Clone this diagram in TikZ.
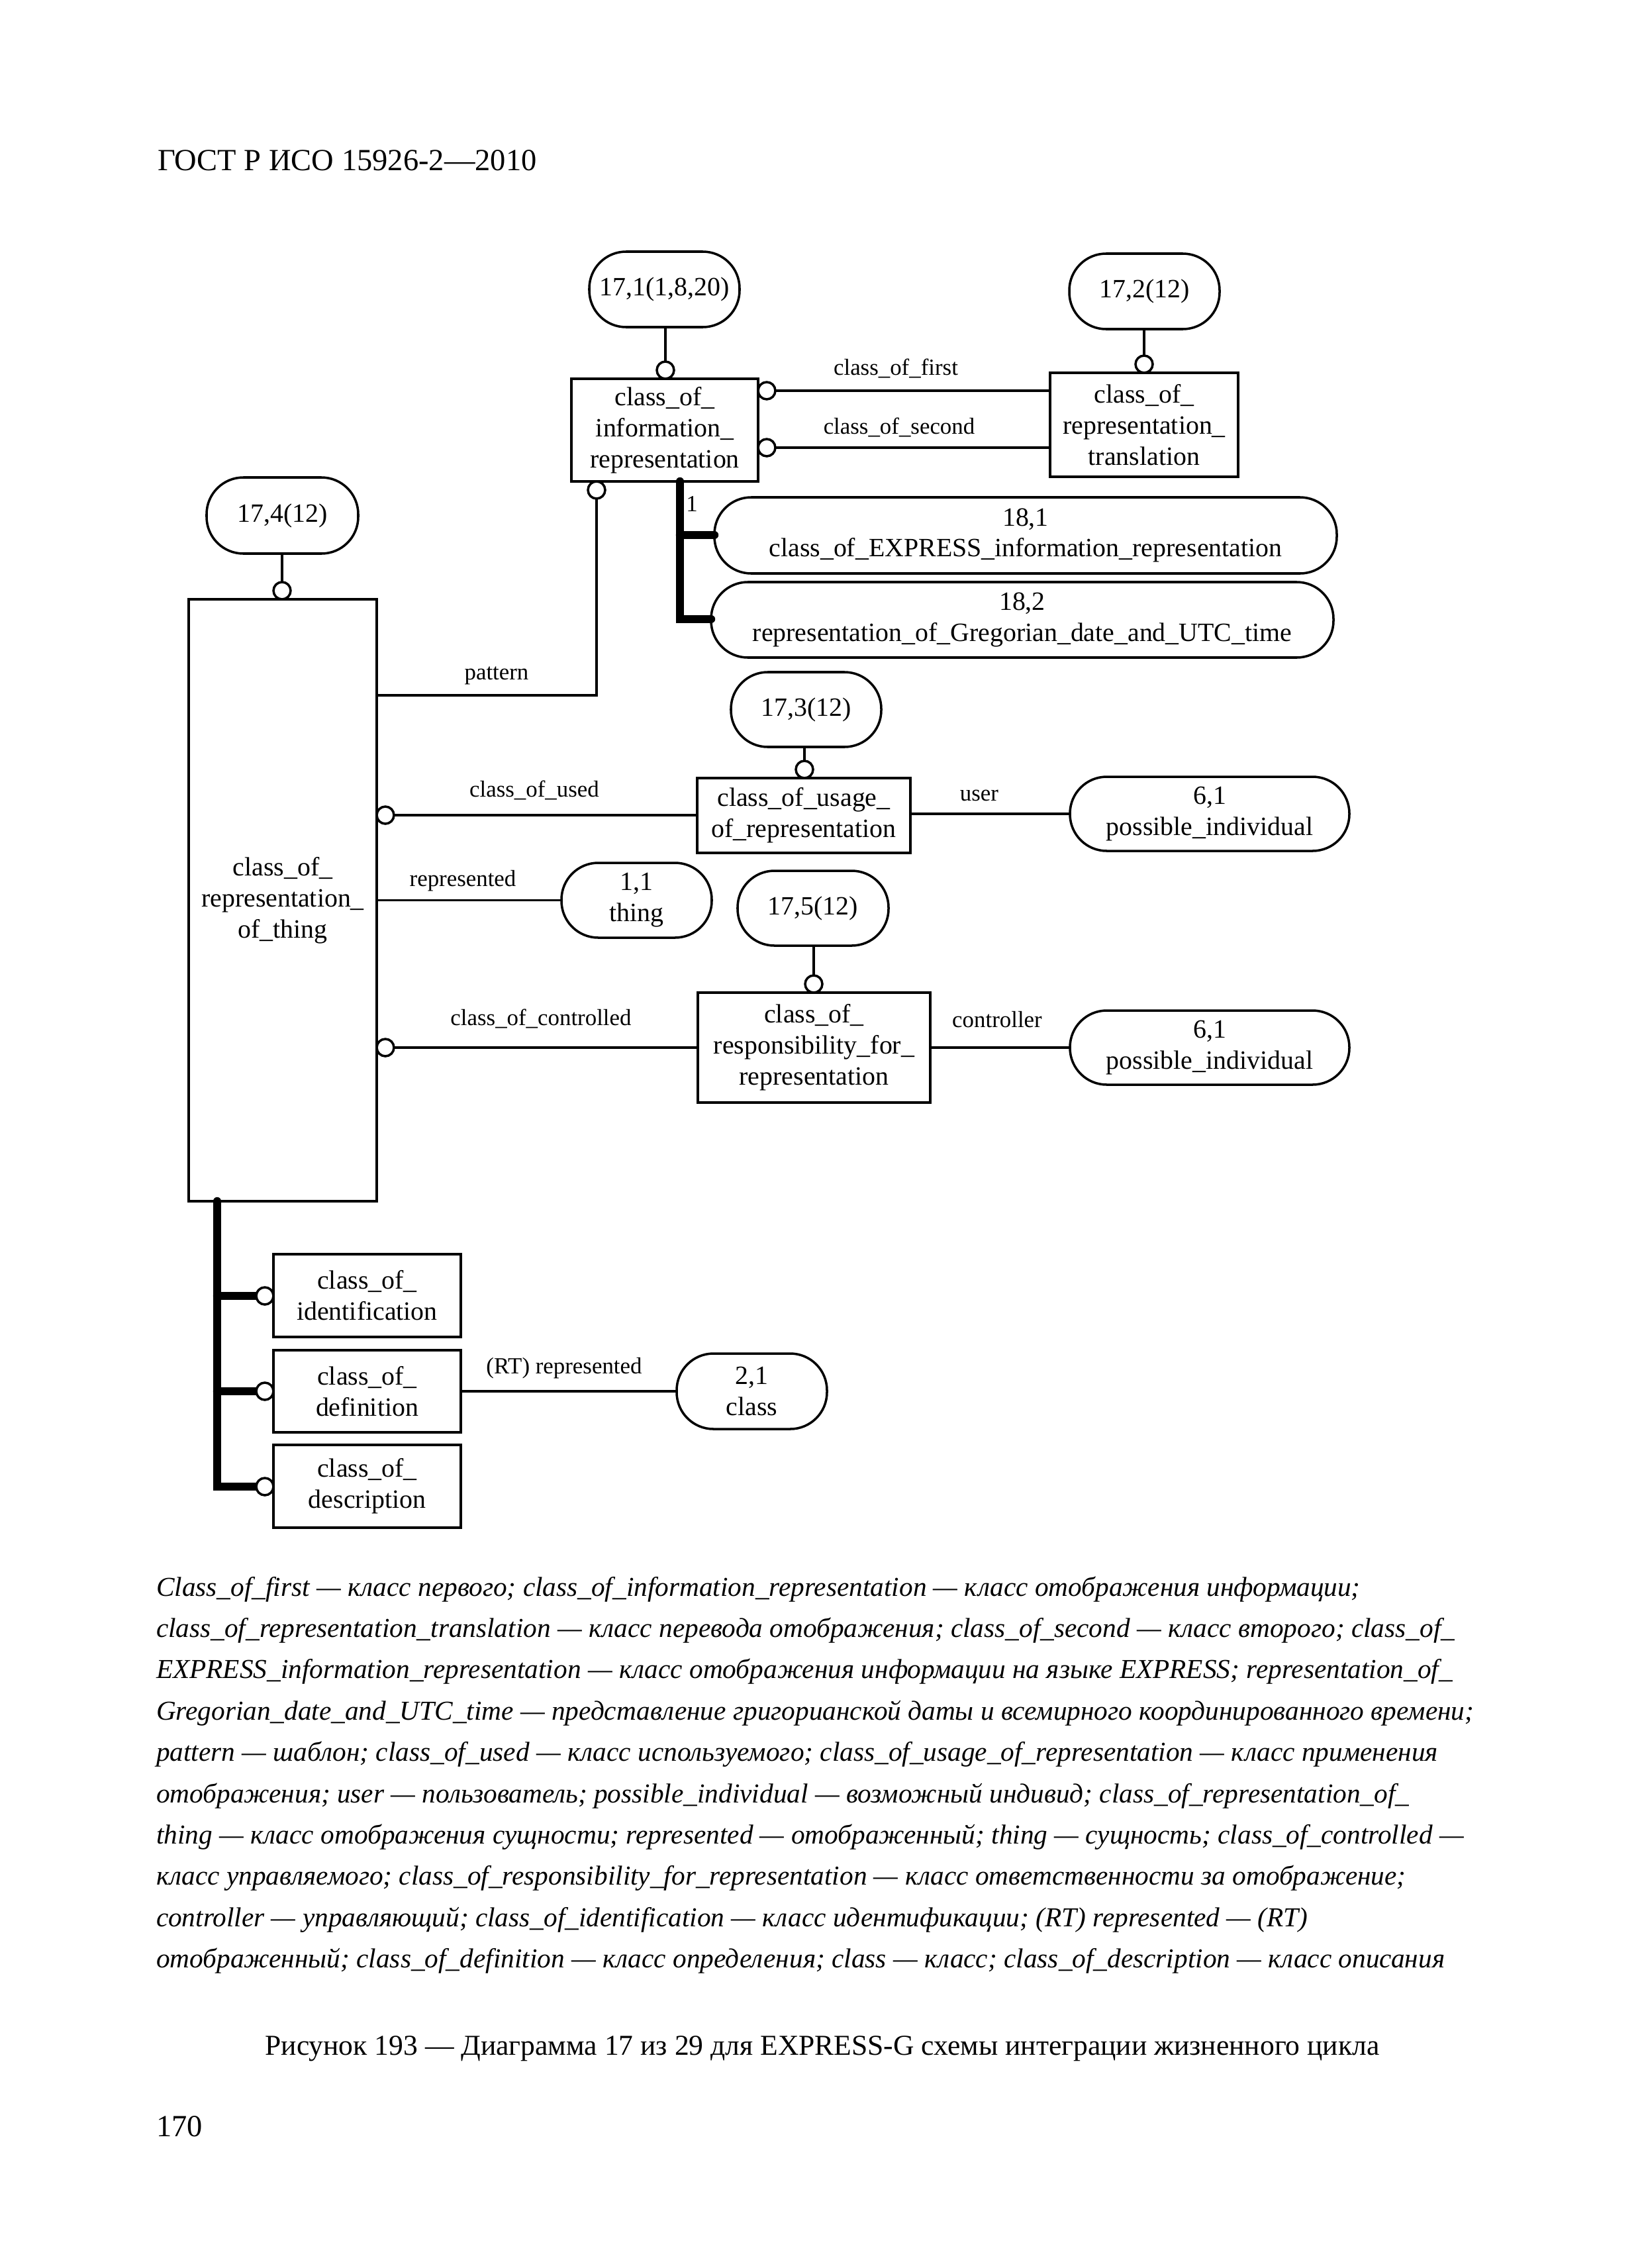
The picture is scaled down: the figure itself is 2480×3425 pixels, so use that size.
\documentclass[tikz,border=0pt]{standalone}
\usepackage{fontspec}
\setmainfont{Liberation Serif}
\usetikzlibrary{backgrounds}
\newcommand\nodefont{\fontsize{9.6}{11.3}\selectfont}
\newcommand\lblfont{\fontsize{8.4}{10}\selectfont}
\begin{document}
\begin{tikzpicture}[x=0.0846667mm, y=-0.0846667mm,
  every node/.style={inner sep=0pt, outer sep=0pt},
  ent/.style={draw, line width=0.85pt, align=center, font=\nodefont},
  rref/.style={ent, rounded corners=4.7mm},
  oc/.style={draw, circle, fill=white, minimum size=2.2mm, line width=0.85pt},
  lbl/.style={font=\lblfont},
  conn/.style={line width=0.8pt},
  thk/.style={line width=3pt, line cap=round},
  captline/.style={anchor=base west, font=\fontsize{9.95}{15}\selectfont\itshape}
]
\useasboundingbox (0,0) rectangle (2480,3425);

% header
\node[anchor=base west, font=\fontsize{11.2}{13}\selectfont] (hdr) at (238,257) {ГОСТ Р ИСО 15926-2—2010};

% reference nodes
\node[rref, minimum width=227*0.0846667mm, minimum height=114*0.0846667mm] (n171) at (1003.5,437) {17,1(1,8,20)};
\node[rref, minimum width=227*0.0846667mm, minimum height=114*0.0846667mm] (n172) at (1728.5,440) {17,2(12)};
\node[rref, minimum width=229*0.0846667mm, minimum height=115*0.0846667mm] (n174) at (426.5,778.5) {17,4(12)};
\node[rref, minimum width=227*0.0846667mm, minimum height=113*0.0846667mm] (n173) at (1217.5,1071.5) {17,3(12)};
\node[rref, minimum width=228*0.0846667mm, minimum height=113*0.0846667mm] (n175) at (1228,1371.5) {17,5(12)};

% entities
\node[ent, minimum width=282*0.0846667mm, minimum height=155*0.0846667mm] (cir) at (1004,649.5) {class\_of\_\\information\_\\representation};
\node[ent, minimum width=284*0.0846667mm, minimum height=157*0.0846667mm] (cort) at (1728,641.5) {class\_of\_\\representation\_\\translation};
\node[rref, minimum width=940*0.0846667mm, minimum height=115*0.0846667mm] (n181) at (1549,808.5) {18,1\\class\_of\_EXPRESS\_information\_representation};
\node[rref, minimum width=940*0.0846667mm, minimum height=114*0.0846667mm] (n182) at (1544,936) {18,2\\representation\_of\_Gregorian\_date\_and\_UTC\_time};
\node[ent, minimum width=284*0.0846667mm, minimum height=909*0.0846667mm] (ct) at (427,1359.5) {class\_of\_\\representation\_\\of\_thing};
\node[ent, minimum width=322*0.0846667mm, minimum height=113*0.0846667mm] (usage) at (1214,1231.5) {class\_of\_usage\_\\of\_representation};
\node[rref, minimum width=422*0.0846667mm, minimum height=112*0.0846667mm] (n61a) at (1827,1229) {6,1\\possible\_individual};
\node[rref, minimum width=227*0.0846667mm, minimum height=113*0.0846667mm] (thing) at (961.5,1359.5) {1,1\\thing};
\node[ent, minimum width=351*0.0846667mm, minimum height=166*0.0846667mm] (resp) at (1229.5,1582) {class\_of\_\\responsibility\_for\_\\representation};
\node[rref, minimum width=422*0.0846667mm, minimum height=112*0.0846667mm] (n61b) at (1827,1582) {6,1\\possible\_individual};
\node[ent, minimum width=283*0.0846667mm, minimum height=125*0.0846667mm] (ident) at (554.5,1956.5) {class\_of\_\\identification};
\node[ent, minimum width=283*0.0846667mm, minimum height=124*0.0846667mm] (defin) at (554.5,2101) {class\_of\_\\definition};
\node[ent, minimum width=283*0.0846667mm, minimum height=125*0.0846667mm] (descr) at (554.5,2244.5) {class\_of\_\\description};
\node[rref, minimum width=227*0.0846667mm, minimum height=114*0.0846667mm] (n21) at (1135.5,2101) {2,1\\class};

% small circles
\node[oc] (c1) at (1005,559) {};
\node[oc] (c2) at (1728,550) {};
\node[oc] (c3) at (1158,590) {};
\node[oc] (c4) at (1158,676) {};
\node[oc] (c5) at (901,740) {};
\node[oc] (c6) at (426,892) {};
\node[oc] (c7) at (582,1231) {};
\node[oc] (c8) at (1215,1162) {};
\node[oc] (c9) at (1229,1486) {};
\node[oc] (c10) at (582,1582) {};
\node[oc] (c11) at (400,1957) {};
\node[oc] (c12) at (400,2101) {};
\node[oc] (c13) at (400,2245) {};

% coordinates
\coordinate (pt) at (901,1050);
\coordinate (b1) at (1027,808);
\coordinate (b2) at (1027,935);
\coordinate (d1) at (328,1957);
\coordinate (d2) at (328,2101);
\coordinate (d3) at (328,2245);

\begin{pgfonlayer}{background}
\draw[conn] (n171.south -| c1) -- (c1.north);
\draw[conn] (n172.south -| c2) -- (c2.north);
\draw[conn] (c3.east) -- (c3.east -| cort.west);
\draw[conn] (c4.east) -- (c4.east -| cort.west);
\draw[conn] (c5.south) -- (pt) -- (pt -| ct.east);
\draw[thk] (cir.south -| b1) -- (b2) -- (b2 -| n182.west);
\draw[thk] (b1) -- (b1 -| n181.west);
\draw[conn] (n174.south -| c6) -- (c6.north);
\draw[conn] (c7.east) -- (c7.east -| usage.west);
\draw[conn] (n173.south -| c8) -- (c8.north);
\draw[conn] (usage.east |- n61a) -- (n61a.west);
\draw[conn] (ct.east |- thing) -- (thing.west);
\draw[conn] (n175.south -| c9) -- (c9.north);
\draw[conn] (c10.east) -- (c10.east -| resp.west);
\draw[conn] (resp.east) -- (n61b.west);
\draw[thk] (ct.south -| d3) -- (d3) -- (c13.west);
\draw[thk] (d1) -- (c11.west);
\draw[thk] (d2) -- (c12.west);
\draw[conn] (defin.east) -- (n21.west);
\end{pgfonlayer}

% labels
\node[lbl] (l1) at (1353,556) {class\_of\_first};
\node[lbl] (l2) at (1358,645) {class\_of\_second};
\node[lbl] (l3) at (1045,761) {1};
\node[lbl] (l4) at (750,1020) {pattern};
\node[lbl] (l5) at (807,1193) {class\_of\_used};
\node[lbl] (l6) at (1479,1201) {user};
\node[lbl] (l7) at (699,1330) {represented};
\node[lbl] (l8) at (817,1538) {class\_of\_controlled};
\node[lbl] (l9) at (1506,1540) {controller};
\node[lbl] (l10) at (852,2066) {(RT) represented};

% caption
\node[captline] (t1) at (236,2410) {Class\_of\_first — класс первого; class\_of\_information\_representation — класс отображения информации;};
\node[captline] (t2) at (236,2472.4) {class\_of\_representation\_translation — класс перевода отображения; class\_of\_second — класс второго; class\_of\_};
\node[captline] (t3) at (236,2534.8) {EXPRESS\_information\_representation — класс отображения информации на языке EXPRESS; representation\_of\_};
\node[captline] (t4) at (236,2597.2) {Gregorian\_date\_and\_UTC\_time — представление григорианской даты и всемирного координированного времени;};
\node[captline] (t5) at (236,2659.6) {pattern — шаблон; class\_of\_used — класс используемого; class\_of\_usage\_of\_representation — класс применения};
\node[captline] (t6) at (236,2722) {отображения; user — пользователь; possible\_individual — возможный индивид; class\_of\_representation\_of\_};
\node[captline] (t7) at (236,2784.4) {thing — класс отображения сущности; represented — отображенный; thing — сущность; class\_of\_controlled —};
\node[captline] (t8) at (236,2846.8) {класс управляемого; class\_of\_responsibility\_for\_representation — класс ответственности за отображение;};
\node[captline] (t9) at (236,2909.2) {controller — управляющий; class\_of\_identification — класс идентификации; (RT) represented — (RT)};
\node[captline] (t10) at (236,2971.6) {отображенный; class\_of\_definition — класс определения; class — класс; class\_of\_description — класс описания};

\node[anchor=base, font=\fontsize{10.5}{13}\selectfont] (fig) at (1242,3103) {Рисунок 193 — Диаграмма 17 из 29 для EXPRESS-G схемы интеграции жизненного цикла};
\node[anchor=base west, font=\fontsize{11.2}{13}\selectfont] (pg) at (236,3226) {170};
\end{tikzpicture}
\end{document}
